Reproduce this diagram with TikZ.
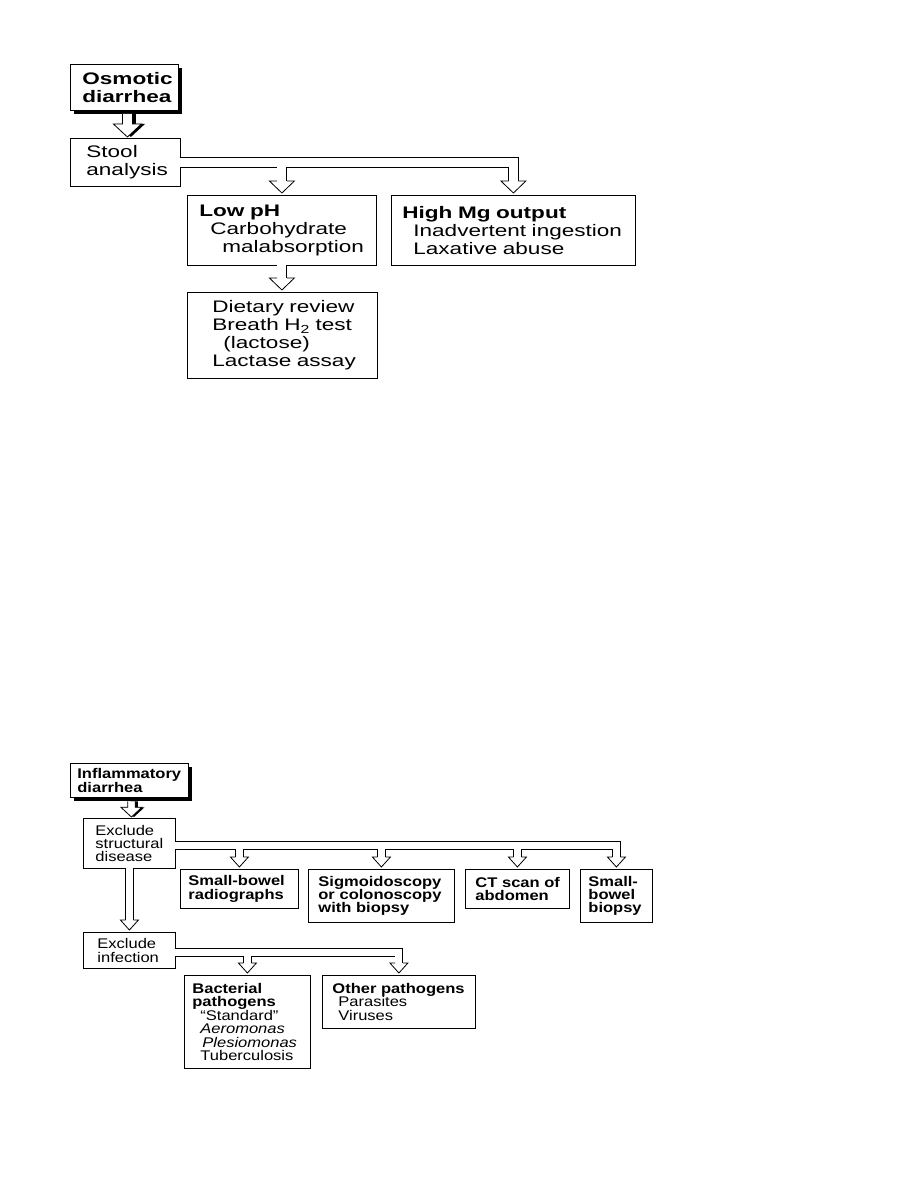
\documentclass[tikz,border=0pt]{standalone}
\usepackage{fontspec}
\setmainfont{Liberation Sans}[FakeStretch=1.35]
\newfontfamily\narrowfam{Liberation Sans}[FakeStretch=1.18,Ligatures=TeX]
\usetikzlibrary{calc,shadows}
\tikzset{
  box/.style={draw,line width=0.8pt,fill=white,anchor=north west,align=left,inner ysep=0pt,
    execute at begin node={\hyphenpenalty=10000\exhyphenpenalty=10000\hbadness=10000\hfuzz=60pt}},
  shadowbox/.style={box,drop shadow={shadow xshift=4pt,shadow yshift=-4pt,fill=black,opacity=1}},
  big/.style={font=\fontsize{16.7}{18}\selectfont},
  small/.style={font=\narrowfam\fontsize{14}{13.4}\selectfont},
  pipe/.style={line width=9pt,white,preaction={draw=black,line width=10.6pt}},
  thinpipe/.style={line width=7pt,white,preaction={draw=black,line width=8.6pt}},
  headbig/.pic={\filldraw[fill=white,line width=0.8pt] (-4.9,-12)--(-12.5,-12)--(0,0)--(12.5,-12)--(4.9,-12);},
  headsmall/.pic={\filldraw[fill=white,line width=0.8pt] (-3.9,-10)--(-9,-10)--(0,0)--(9,-10)--(3.9,-10);},
  shadowarrow/.pic={
    \fill[black] (-1.5,{-13-#1})--(-1.5,-13)--(-10.5,-13)--(3.5,0)--(17.5,-13)--(8.5,-13)--(8.5,{-13-#1})--cycle;
    \filldraw[fill=white,line width=0.8pt] (-5,{-13-#1})--(-5,-13)--(-14,-13)--(0,0)--(14,-13)--(5,-13)--(5,{-13-#1});
  },
}
\begin{document}
\begin{tikzpicture}[x=1pt,y=-1pt]
  \useasboundingbox (0,0) rectangle (918,1188);
  % osmotic diarrhea
  \node[shadowbox,big,minimum width=108,minimum height=46,text width=84,inner xsep=12] (osmotic) at (70,64) {\bfseries Osmotic\\diarrhea};
  \node[box,big,minimum width=110,minimum height=48,text width=78,inner xsep=16] (stool) at (70,138) {Stool\\analysis};
  \node[box,big,minimum width=189,minimum height=70,text width=165,inner xsep=12] (lowph) at (187,195)
    {\textbf{Low~pH}\\\hspace*{11pt}Carbohydrate\\\hspace*{23pt}malabsorption};
  \node[box,big,minimum width=244,minimum height=70,text width=222,inner xsep=11] (highmg) at (391,195)
    {\textbf{High~Mg~output}\\\hspace*{11pt}Inadvertent~ingestion\\\hspace*{11pt}Laxative~abuse};
  \node[box,big,minimum width=190,minimum height=86,text width=140,inner xsep=25] (dietary) at (187,292)
    {Dietary~review\\Breath~H\textsubscript{2}~test\\\hspace*{11pt}(lactose)\\Lactase~assay};
  \pic at ([xshift=2pt,yshift=1pt]stool.north) {shadowarrow=10};
  \draw[pipe] ([xshift=-1pt]stool.east) -| ([yshift=14pt]lowph.north)
              ([xshift=-1pt]stool.east) -| ([yshift=14pt]highmg.north)
              ([yshift=1pt]lowph.south) -- ([yshift=14pt]lowph.south |- dietary.north);
  \pic at ([yshift=2pt]lowph.north) {headbig};
  \pic at ([yshift=2pt]highmg.north) {headbig};
  \pic at ([yshift=2pt]lowph.south |- dietary.north) {headbig};
  % inflammatory diarrhea
  \node[shadowbox,small,minimum width=118,minimum height=34,text width=104,inner xsep=7] (inflam) at (70,763) {\bfseries Inflammatory\\diarrhea};
  \node[box,small,minimum width=92,minimum height=50,text width=68,inner xsep=12] (structural) at (83,818) {Exclude\\structural\\disease};
  \node[box,small,minimum width=92,minimum height=36,text width=64,inner xsep=14] (infection) at (83,932) {Exclude\\infection};
  \node[box,small,minimum width=118,minimum height=39,text width=102,inner xsep=8] (sbradio) at (180,869) {\bfseries Small-bowel\\radiographs};
  \node[box,small,minimum width=146,minimum height=53,text width=126,inner xsep=10] (sigmo) at (308,869) {\bfseries Sigmoidoscopy\\or~colonoscopy\\with~biopsy};
  \node[box,small,minimum width=104,minimum height=39,text width=84,inner xsep=10] (ctscan) at (465,869) {\bfseries CT~scan~of\\abdomen};
  \node[box,small,minimum width=72,minimum height=53,text width=56,inner xsep=8] (sbbiopsy) at (580,869) {\bfseries Small-\\bowel\\biopsy};
  \node[box,small,minimum width=126,minimum height=93,text width=110,inner xsep=8] (bacterial) at (184,975)
    {\textbf{Bacterial}\\\textbf{pathogens}\\\hspace*{8pt}“Standard”\\\hspace*{8pt}\textit{Aeromonas}\\\hspace*{10pt}\textit{Plesiomonas}\\\hspace*{8pt}Tuberculosis};
  \node[box,small,minimum width=153,minimum height=53,text width=133,inner xsep=10] (otherpath) at (322,975)
    {\textbf{Other~pathogens}\\\hspace*{6pt}Parasites\\\hspace*{6pt}Viruses};
  \pic[scale=0.75] at ([xshift=2pt,yshift=1pt]structural.north) {shadowarrow=8};
  \draw[thinpipe] ([xshift=-1pt,yshift=-2pt]structural.east) -| ([yshift=12pt]sbradio.north)
                  ([xshift=-1pt,yshift=-2pt]structural.east) -| ([yshift=12pt]sigmo.north)
                  ([xshift=-1pt,yshift=-2pt]structural.east) -| ([yshift=12pt]ctscan.north)
                  ([xshift=-1pt,yshift=-2pt]structural.east) -| ([yshift=12pt]sbbiopsy.north)
                  ([yshift=1pt]structural.south) -- ([yshift=12pt]structural.south |- infection.north);
  \draw[thinpipe] ([xshift=-1pt,yshift=-2pt]infection.east) -| ([yshift=12pt]bacterial.north)
                  ([xshift=-1pt,yshift=-2pt]infection.east) -| ([yshift=12pt]otherpath.north);
  \foreach \n in {sbradio,sigmo,ctscan,sbbiopsy,bacterial,otherpath}
    \pic at ([yshift=2pt]\n.north) {headsmall};
  \pic at ([yshift=2pt]structural.south |- infection.north) {headsmall};
\end{tikzpicture}
\end{document}
